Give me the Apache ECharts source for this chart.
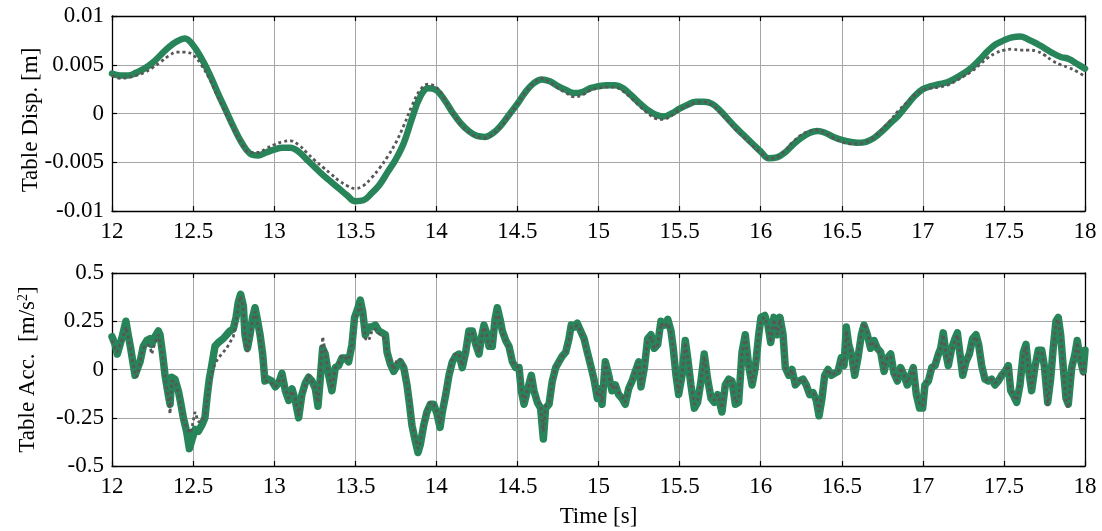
<!DOCTYPE html>
<html>
<head>
<meta charset="utf-8">
<script src="https://cdn.jsdelivr.net/npm/echarts@6/dist/echarts.min.js"></script>
<style>
html,body{margin:0;padding:0;background:#fff;}
#chart{width:1102px;height:531px;}
</style>
</head>
<body>
<div id="chart"></div>
<script>
// ---------- Data ----------
var dispT = [12.00,12.05,12.10,12.15,12.20,12.25,12.30,12.35,12.40,12.45,12.50,12.55,12.60,12.65,12.70,12.75,12.80,12.85,12.90,12.95,
13.00,13.05,13.10,13.15,13.20,13.25,13.30,13.35,13.40,13.45,13.50,13.55,13.60,13.65,13.70,13.75,13.80,13.85,13.90,13.95,
14.00,14.05,14.10,14.15,14.20,14.25,14.30,14.35,14.40,14.45,14.50,14.55,14.60,14.65,14.70,14.75,14.80,14.85,14.90,14.95,
15.00,15.05,15.10,15.15,15.20,15.25,15.30,15.35,15.40,15.45,15.50,15.55,15.60,15.65,15.70,15.75,15.80,15.85,15.90,15.95,
16.00,16.05,16.10,16.15,16.20,16.25,16.30,16.35,16.40,16.45,16.50,16.55,16.60,16.65,16.70,16.75,16.80,16.85,16.90,16.95,
17.00,17.05,17.10,17.15,17.20,17.25,17.30,17.35,17.40,17.45,17.50,17.55,17.60,17.65,17.70,17.75,17.80,17.85,17.90,17.95,18.00];

var dispMeasured = [0.0041,0.0039,0.0039,0.0042,0.0046,0.0052,0.0060,0.0068,0.0074,0.0077,0.0070,0.0057,0.0041,0.0022,0.0004,-0.0014,-0.0030,-0.0041,-0.0043,-0.0040,
-0.0037,-0.0035,-0.0035,-0.0039,-0.0047,-0.0055,-0.0063,-0.0070,-0.0077,-0.0084,-0.0090,-0.0089,-0.0082,-0.0073,-0.0060,-0.0047,-0.0030,-0.0005,0.0017,0.0026,
0.0024,0.0014,0.0001,-0.0010,-0.0018,-0.0023,-0.0024,-0.0020,-0.0012,-0.0001,0.0010,0.0022,0.0031,0.0035,0.0033,0.0028,0.0024,0.0021,0.0022,0.0026,
0.0028,0.0029,0.0029,0.0026,0.0019,0.0011,0.0004,-0.0001,-0.0003,0.0000,0.0005,0.0009,0.0012,0.0012,0.0010,0.0003,-0.0006,-0.0015,-0.0023,-0.0031,
-0.0039,-0.0046,-0.0045,-0.0040,-0.0032,-0.0025,-0.0020,-0.0018,-0.0020,-0.0024,-0.0027,-0.0029,-0.0030,-0.0029,-0.0025,-0.0018,-0.0010,-0.0002,0.0008,0.0018,
0.0025,0.0028,0.0030,0.0032,0.0036,0.0041,0.0047,0.0055,0.0064,0.0071,0.0075,0.0078,0.0079,0.0076,0.0072,0.0067,0.0062,0.0058,0.0056,0.0051,0.0046];

var dispSimulated = [0.0039,0.0036,0.0037,0.0039,0.0042,0.0047,0.0053,0.0059,0.0063,0.0063,0.0060,0.0050,0.0036,0.0018,0.0001,-0.0016,-0.0031,-0.0040,-0.0040,-0.0036,
-0.0032,-0.0029,-0.0028,-0.0032,-0.0040,-0.0048,-0.0055,-0.0062,-0.0069,-0.0074,-0.0077,-0.0074,-0.0066,-0.0056,-0.0044,-0.0030,-0.0012,0.0008,0.0024,0.0030,
0.0027,0.0015,0.0001,-0.0011,-0.0019,-0.0024,-0.0025,-0.0021,-0.0013,-0.0002,0.0010,0.0022,0.0031,0.0036,0.0032,0.0026,0.0021,0.0017,0.0019,0.0024,
0.0026,0.0027,0.0027,0.0023,0.0016,0.0008,0.0001,-0.0005,-0.0006,-0.0002,0.0004,0.0008,0.0011,0.0012,0.0009,0.0001,-0.0008,-0.0017,-0.0025,-0.0033,
-0.0040,-0.0046,-0.0045,-0.0038,-0.0029,-0.0022,-0.0018,-0.0017,-0.0020,-0.0025,-0.0029,-0.0031,-0.0031,-0.0029,-0.0024,-0.0016,-0.0007,0.0003,0.0011,0.0019,
0.0024,0.0026,0.0027,0.0029,0.0033,0.0038,0.0043,0.0050,0.0057,0.0062,0.0065,0.0066,0.0065,0.0065,0.0064,0.0060,0.0054,0.0050,0.0047,0.0043,0.0038];

var accT = [12.000,12.019,12.033,12.060,12.086,12.100,12.115,12.142,12.152,12.173,12.193,12.214,12.234,12.245,12.265,12.286,12.296,12.312,12.327,12.347,
12.358,12.368,12.388,12.409,12.423,12.440,12.460,12.477,12.491,12.512,12.532,12.553,12.573,12.588,12.600,12.615,12.635,12.656,12.686,12.707,
12.727,12.748,12.765,12.779,12.793,12.810,12.820,12.835,12.851,12.867,12.882,12.896,12.913,12.929,12.943,12.964,12.985,
13.007,13.028,13.048,13.069,13.090,13.110,13.130,13.151,13.171,13.192,13.212,13.233,13.254,13.270,13.284,13.299,13.315,13.336,13.356,13.377,
13.397,13.418,13.439,13.459,13.480,13.496,13.517,13.531,13.546,13.562,13.583,13.603,13.624,13.645,13.665,13.686,13.696,13.716,13.737,13.757,
13.778,13.799,13.819,13.833,13.850,13.870,13.887,13.901,13.922,13.942,13.963,13.984,14.004,
14.023,14.037,14.058,14.078,14.099,14.119,14.140,14.160,14.181,14.201,14.222,14.243,14.263,14.277,14.294,14.310,14.325,14.345,14.362,14.376,
14.393,14.407,14.428,14.448,14.469,14.489,14.510,14.524,14.541,14.561,14.586,14.602,14.623,14.643,14.660,14.674,14.695,14.715,14.736,14.756,
14.777,14.798,14.818,14.832,14.849,14.869,14.890,14.911,14.931,14.952,14.972,14.993,
15.005,15.022,15.042,15.063,15.083,15.104,15.124,15.145,15.165,15.186,15.207,15.227,15.248,15.262,15.283,15.303,15.324,15.344,15.365,15.385,
15.406,15.427,15.447,15.461,15.478,15.494,15.515,15.535,15.550,15.570,15.591,15.611,15.632,15.652,15.673,15.694,15.714,15.735,15.761,15.782,
15.803,15.823,15.844,15.864,15.885,15.905,15.926,15.947,15.967,15.988,16.002,
16.025,16.045,16.062,16.082,16.103,16.119,16.138,16.152,16.173,16.193,16.214,16.234,16.261,16.281,16.302,16.323,16.343,16.360,16.378,16.395,
16.415,16.436,16.456,16.477,16.497,16.514,16.528,16.543,16.559,16.580,16.600,16.621,16.637,16.658,16.678,16.699,16.719,16.740,16.761,16.781,
16.802,16.822,16.843,16.863,16.884,16.904,16.925,16.941,16.960,16.980,
16.999,17.013,17.034,17.055,17.075,17.096,17.110,17.126,17.143,17.157,17.178,17.198,17.213,17.229,17.246,17.266,17.287,17.307,17.328,17.344,
17.363,17.383,17.404,17.424,17.445,17.465,17.486,17.507,17.527,17.542,17.562,17.579,17.599,17.620,17.636,17.650,17.671,17.691,17.712,17.733,
17.749,17.770,17.788,17.804,17.821,17.835,17.850,17.866,17.883,17.897,17.918,17.938,17.952,17.969,17.989,18.000];

var accMeasured = [0.17,0.13,0.08,0.16,0.25,0.18,0.11,-0.03,-0.04,0.04,0.12,0.15,0.16,0.13,0.17,0.20,0.18,0.08,-0.03,-0.13,
-0.18,-0.04,-0.05,-0.11,-0.17,-0.25,-0.32,-0.41,-0.37,-0.31,-0.32,-0.29,-0.25,-0.13,-0.05,0.02,0.12,0.14,0.16,0.18,
0.20,0.21,0.27,0.35,0.39,0.33,0.18,0.11,0.18,0.27,0.32,0.26,0.18,0.08,-0.06,-0.05,-0.06,
-0.09,-0.07,-0.02,-0.11,-0.16,-0.10,-0.16,-0.25,-0.13,-0.07,-0.04,-0.06,-0.10,-0.19,-0.05,0.11,0.08,-0.03,-0.11,0.01,
0.02,0.06,0.06,0.04,0.13,0.27,0.32,0.36,0.30,0.18,0.22,0.22,0.23,0.20,0.19,0.18,0.09,0.03,-0.01,0.02,
0.04,0.01,-0.08,-0.17,-0.29,-0.37,-0.43,-0.39,-0.29,-0.22,-0.18,-0.18,-0.23,
-0.30,-0.22,-0.13,-0.03,0.04,0.07,0.08,0.01,0.09,0.20,0.20,0.13,0.08,0.16,0.23,0.19,0.12,0.12,0.26,0.32,
0.26,0.20,0.15,0.12,0.04,0.01,0.01,-0.11,-0.18,-0.11,-0.03,-0.11,-0.17,-0.20,-0.36,-0.20,-0.18,-0.06,0.01,0.04,
0.07,0.09,0.16,0.23,0.22,0.24,0.20,0.16,0.09,0.02,-0.05,-0.15,
-0.10,-0.18,0.04,-0.03,-0.11,-0.08,-0.13,-0.15,-0.18,-0.10,-0.06,-0.01,0.04,-0.09,0.01,0.16,0.18,0.11,0.13,0.25,
0.23,0.26,0.20,0.11,-0.03,-0.13,-0.03,0.15,0.06,-0.08,-0.20,-0.17,-0.06,0.08,-0.05,-0.15,-0.17,-0.13,-0.22,-0.08,
-0.05,-0.06,-0.18,-0.17,0.09,0.18,0.02,-0.08,0.01,0.18,0.27,
0.28,0.23,0.14,0.27,0.18,0.27,0.18,0.01,-0.03,0.00,-0.08,-0.06,-0.05,-0.08,-0.13,-0.12,-0.16,-0.24,-0.15,-0.03,
0.00,-0.03,-0.02,-0.01,0.06,0.02,0.22,0.13,0.08,-0.03,0.06,0.18,0.23,0.18,0.11,0.15,0.11,0.09,-0.01,0.06,
0.08,-0.02,-0.06,0.01,-0.03,-0.08,-0.03,0.01,-0.13,-0.20,
-0.20,-0.08,-0.06,0.01,0.02,0.08,0.11,0.19,0.08,0.02,0.11,0.16,0.19,0.08,-0.03,0.04,0.08,0.16,0.18,0.13,
0.02,-0.05,-0.06,-0.05,-0.08,-0.06,-0.03,-0.01,0.02,-0.11,-0.14,-0.17,-0.08,0.09,0.13,0.01,-0.11,0.01,0.10,0.10,
0.02,-0.17,-0.05,0.11,0.25,0.27,0.18,0.01,-0.15,-0.18,0.01,0.08,0.15,0.06,-0.01,0.10];

var accSimulated = [0.15,0.11,0.09,0.15,0.22,0.17,0.10,-0.02,-0.04,0.04,0.11,0.13,0.12,0.08,0.14,0.18,0.17,0.07,-0.04,-0.15,
-0.23,-0.06,-0.06,-0.12,-0.18,-0.26,-0.30,-0.33,-0.31,-0.22,-0.27,-0.27,-0.24,-0.15,-0.08,-0.02,0.03,0.06,0.09,0.11,
0.14,0.17,0.25,0.34,0.38,0.32,0.17,0.09,0.17,0.26,0.30,0.25,0.17,0.07,-0.06,-0.06,-0.07,
-0.09,-0.06,-0.03,-0.10,-0.15,-0.11,-0.15,-0.24,-0.14,-0.08,-0.03,-0.06,-0.10,-0.17,-0.03,0.17,0.09,-0.02,-0.10,0.01,
0.03,0.07,0.06,0.05,0.13,0.26,0.30,0.34,0.28,0.16,0.15,0.20,0.21,0.19,0.17,0.16,0.09,0.04,0.00,0.05,
0.05,0.02,-0.07,-0.16,-0.28,-0.35,-0.41,-0.38,-0.28,-0.21,-0.17,-0.18,-0.22,
-0.28,-0.21,-0.12,-0.02,0.05,0.08,0.08,0.02,0.10,0.19,0.19,0.13,0.09,0.16,0.22,0.18,0.12,0.13,0.25,0.30,
0.25,0.19,0.15,0.11,0.04,0.02,0.01,-0.10,-0.17,-0.11,-0.04,-0.11,-0.16,-0.19,-0.32,-0.19,-0.17,-0.06,0.01,0.04,
0.07,0.09,0.15,0.22,0.22,0.23,0.20,0.15,0.08,0.02,-0.05,-0.14,
-0.10,-0.17,0.04,-0.03,-0.10,-0.08,-0.12,-0.14,-0.17,-0.10,-0.06,-0.01,0.04,-0.08,0.01,0.15,0.17,0.11,0.13,0.24,
0.22,0.24,0.19,0.11,-0.03,-0.12,-0.03,0.14,0.06,-0.07,-0.18,-0.16,-0.06,0.07,-0.05,-0.14,-0.16,-0.13,-0.20,-0.08,
-0.05,-0.06,-0.17,-0.16,0.08,0.17,0.02,-0.07,0.01,0.17,0.26,
0.27,0.22,0.14,0.26,0.18,0.26,0.17,0.01,-0.03,0.00,-0.08,-0.06,-0.05,-0.08,-0.12,-0.12,-0.15,-0.22,-0.14,-0.03,
0.00,-0.03,-0.02,-0.01,0.05,0.02,0.20,0.13,0.08,-0.02,0.07,0.19,0.24,0.19,0.12,0.14,0.11,0.08,0.00,0.06,
0.07,-0.02,-0.06,0.01,-0.03,-0.07,-0.03,0.01,-0.12,-0.18,
-0.19,-0.08,-0.05,0.01,0.03,0.08,0.11,0.18,0.08,0.03,0.10,0.15,0.18,0.08,-0.02,0.04,0.08,0.15,0.17,0.13,
0.02,-0.05,-0.06,-0.05,-0.07,-0.06,-0.03,-0.01,0.02,-0.10,-0.14,-0.16,-0.08,0.08,0.12,0.01,-0.10,0.01,0.09,0.09,
0.02,-0.19,-0.06,0.10,0.24,0.26,0.18,0.01,-0.17,-0.20,0.00,0.07,0.14,0.05,-0.03,0.05];

var xTicks = {min: 12, max: 18, step: 0.5};
var dispTicks = {min: -0.01, max: 0.01, step: 0.005};
var accTicks = {min: -0.5, max: 0.5, step: 0.25};

// ---------- Styling ----------
var FONT = 'Liberation Serif';
var FS = 23;
var GREEN = '#28855a';
var GREY = '#575757';

function pairs(t, v) { return t.map(function (x, i) { return [x, v[i]]; }); }

function axisBase(showLabels) {
  return {
    type: 'value',
    nameMoveOverlap: false,
    axisLine: { show: true, onZero: false, lineStyle: { color: '#000', width: 1.3 } },
    axisTick: { show: true, inside: true, length: 5, lineStyle: { color: '#000', width: 1.2 } },
    axisLabel: { show: showLabels, fontFamily: FONT, fontSize: FS, color: '#000', margin: 9 },
    splitLine: { show: showLabels, lineStyle: { color: '#a6a6a6', width: 1 } }
  };
}
function xAxisDef(grid, showLabels, pos, extra) {
  var a = axisBase(showLabels);
  a.gridIndex = grid; a.position = pos;
  a.min = xTicks.min; a.max = xTicks.max; a.interval = xTicks.step;
  if (extra) for (var k in extra) a[k] = extra[k];
  return a;
}
function yAxisDef(grid, ticks, showLabels, pos, extra) {
  var a = axisBase(showLabels);
  a.gridIndex = grid; a.position = pos;
  a.min = ticks.min; a.max = ticks.max; a.interval = ticks.step;
  a.axisLabel.margin = 8;
  if (extra) for (var k in extra) a[k] = extra[k];
  return a;
}

var option = {
  animation: false,
  backgroundColor: '#fff',
  grid: [
    { left: 112, top: 16, width: 973, height: 195 },
    { left: 112, top: 273, width: 973, height: 193 }
  ],
  xAxis: [
    xAxisDef(0, true, 'bottom'),
    xAxisDef(0, false, 'top'),
    xAxisDef(1, true, 'bottom', { name: 'Time [s]', nameLocation: 'middle', nameGap: 39,
      nameTextStyle: { fontFamily: FONT, fontSize: FS, color: '#000' } }),
    xAxisDef(1, false, 'top')
  ],
  yAxis: [
    yAxisDef(0, dispTicks, true, 'left', { name: 'Table Disp. [m]', nameLocation: 'middle', nameGap: 70, nameRotate: 90,
      nameTextStyle: { fontFamily: FONT, fontSize: FS, color: '#000', padding: [0, 13, 0, 0] } }),
    yAxisDef(0, dispTicks, false, 'right'),
    yAxisDef(1, accTicks, true, 'left', {
      name: 'Table Acc.  [m/s{sup|2}]', nameLocation: 'middle', nameGap: 73, nameRotate: 90,
      nameTextStyle: { fontFamily: FONT, fontSize: FS, color: '#000',
        rich: { sup: { fontFamily: FONT, fontSize: 14, color: '#000', verticalAlign: 'top', padding: [0, 0, 4, 0] } } }
    }),
    yAxisDef(1, accTicks, false, 'right')
  ],
  series: [
    { type: 'line', xAxisIndex: 0, yAxisIndex: 0, data: pairs(dispT, dispMeasured), smooth: 0.4, showSymbol: false,
      lineStyle: { color: GREEN, width: 6.5, cap: 'round', join: 'round' }, z: 2 },
    { type: 'line', xAxisIndex: 0, yAxisIndex: 0, data: pairs(dispT, dispSimulated), smooth: 0.4, showSymbol: false,
      lineStyle: { color: GREY, width: 2.8, type: [3, 3] }, z: 3 },
    { type: 'line', xAxisIndex: 2, yAxisIndex: 2, data: pairs(accT, accMeasured), showSymbol: false,
      lineStyle: { color: GREEN, width: 7.5, cap: 'round', join: 'round' }, z: 2 },
    { type: 'line', xAxisIndex: 2, yAxisIndex: 2, data: pairs(accT, accSimulated), showSymbol: false,
      lineStyle: { color: GREY, width: 2.8, type: [3, 3] }, z: 3 }
  ]
};

var chart = echarts.init(document.getElementById('chart'), null, { renderer: 'canvas' });
chart.setOption(option);
</script>
</body>
</html>
